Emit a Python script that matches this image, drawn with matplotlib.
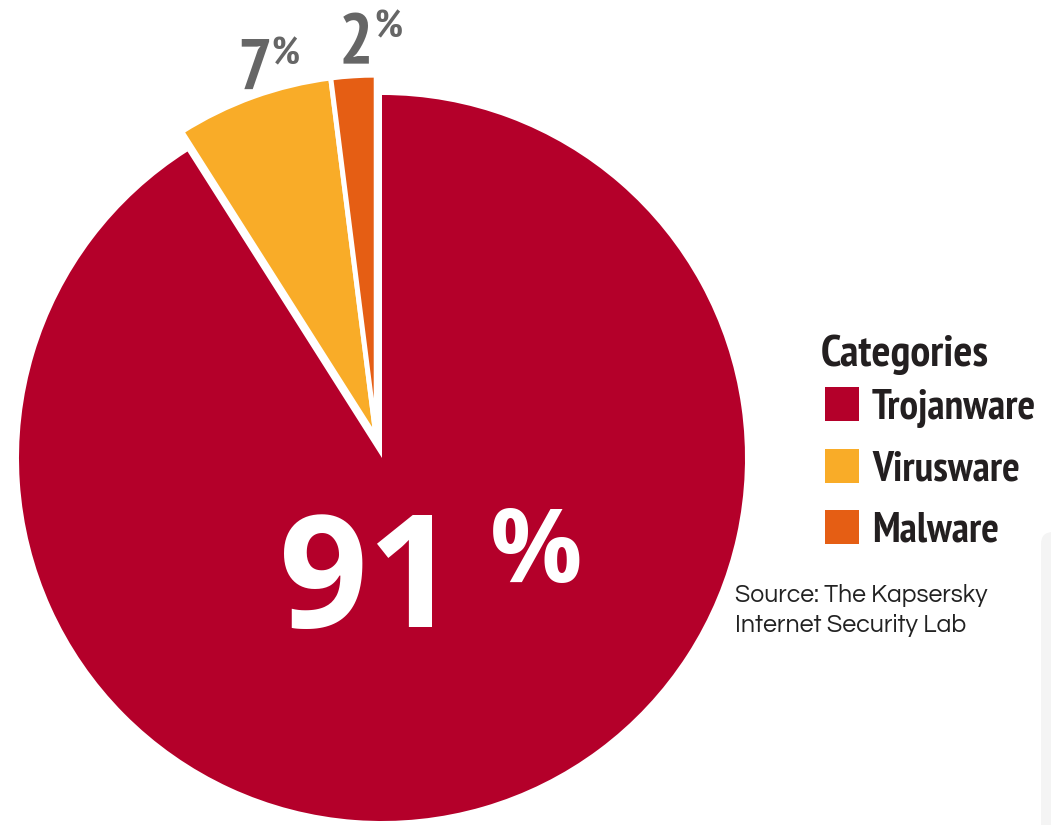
import matplotlib
matplotlib.use("Agg")
import matplotlib.pyplot as plt
from matplotlib import font_manager as fm
from matplotlib.patches import FancyBboxPatch
import numpy as np

# ---- data ----
categories = ["Trojanware", "Virusware", "Malware"]
values = [91, 7, 2]
labels = ["91", "7", "2"]
colors = ["#B4002A", "#F9AC28", "#E55E14"]
legend_title = "Categories"
source_lines = ["Source: The Kapsersky", "Internet Security Lab"]

_names = {f.name for f in fm.fontManager.ttflist}
def pick(cands):
    for c in cands:
        if c in _names:
            return [c, "DejaVu Sans"]
    return ["DejaVu Sans"]

cond = pick(["PT Sans Narrow", "Fira Sans Condensed", "Roboto Condensed",
             "Open Sans Condensed", "Archivo Narrow", "Liberation Sans Narrow",
             "Asap Condensed", "Encode Sans Condensed", "IBM Plex Sans Condensed"])
bigf = pick(["Open Sans", "Noto Sans", "Lato"])
gothic = pick(["Questrial", "Didact Gothic", "TeX Gyre Adventor", "URW Gothic",
               "Poppins", "Lato"])

W, H = 1051, 825
fig = plt.figure(figsize=(W / 100, H / 100), dpi=100)
ax = fig.add_axes([0, 0, 1, 1])
renderer = fig.canvas.get_renderer()

def Y(py):
    return H - py

def fit(t, target_w, max_size=None):
    bb = t.get_window_extent(renderer=renderer)
    s = t.get_fontsize() * target_w / bb.width
    if max_size is not None:
        s = min(s, max_size)
    t.set_fontsize(s)
    return t

# faint panel at right edge
ax.add_patch(FancyBboxPatch((1041, -20), 40, Y(532) + 20,
                            boxstyle="round,pad=0,rounding_size=12",
                            facecolor="#F4F4F4", edgecolor="none", zorder=0))

cx, cy = 382, Y(458)
R = 363
start = 90

w1, _ = ax.pie(values, colors=colors, startangle=start, counterclock=False,
               radius=R, center=(cx, cy), wedgeprops=dict(linewidth=0))
for w in w1[1:]:
    w.set_visible(False)

total = sum(values)
small_frac = sum(values[1:]) / total
mid = np.deg2rad(start + small_frac * 360 / 2)
shift = 20.7
sx, sy = cx + shift * np.cos(mid), cy + shift * np.sin(mid)
w2, _ = ax.pie(values, colors=colors, startangle=start, counterclock=False,
               radius=R, center=(sx, sy),
               wedgeprops=dict(linewidth=3.6, edgecolor="white"))
w2[0].set_visible(False)

ax.set_xlim(0, W)
ax.set_ylim(0, H)
ax.set_aspect("auto")
ax.axis("off")

gray = "#666666"
dark = "#231F20"

# small labels
ax.text(237, Y(89), labels[1], fontsize=52, fontweight="bold", family=cond,
        color=gray, ha="left", va="baseline")
ax.text(271, Y(64), "%", fontsize=28, fontweight="bold", family=cond,
        color=gray, ha="left", va="baseline")
ax.text(339, Y(63), labels[2], fontsize=52, fontweight="bold", family=cond,
        color=gray, ha="left", va="baseline")
ax.text(374, Y(37), "%", fontsize=28, fontweight="bold", family=cond,
        color=gray, ha="left", va="baseline")

# big label
ax.text(279, Y(627), labels[0], fontsize=112, fontweight="bold",
        family=bigf, color="white", ha="left", va="baseline")
ax.text(490, Y(582), "%", fontsize=74, fontweight="bold",
        family=bigf, color="white", ha="left", va="baseline")

# legend
t = ax.text(821, Y(366), legend_title, fontsize=30, fontweight="bold", family=cond,
            color=dark, ha="left", va="baseline")
fit(t, 168, 36)
legend_w = [166, 149, 130]
for i, (cat, col) in enumerate(zip(categories, colors)):
    top = 387 + i * 61.5
    ax.add_patch(plt.Rectangle((825, Y(top + 34)), 34, 34, facecolor=col,
                               edgecolor="none"))
    t = ax.text(872, Y(top + 32), cat, fontsize=27, fontweight="bold", family=cond,
                color=dark, ha="left", va="baseline")
    fit(t, legend_w[i], 30)

# source
src_w = [254, 238]
for i, line in enumerate(source_lines):
    t = ax.text(735, Y(602 + i * 30), line, fontsize=15, family=gothic,
                color="#222222", ha="left", va="baseline")
    fit(t, src_w[i], 18)

fig.savefig("out.png", dpi=100)
